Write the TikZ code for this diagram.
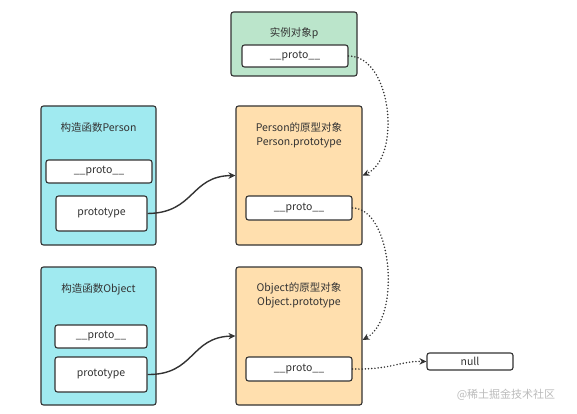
\documentclass[tikz,border=0pt]{standalone}
\usepackage{fontspec}
\setmainfont{Noto Sans CJK SC}
\usetikzlibrary{arrows.meta}
\definecolor{edge}{HTML}{333333}
\definecolor{greenfill}{HTML}{BBE5CB}
\definecolor{cyanfill}{HTML}{A0EAF0}
\definecolor{orangefill}{HTML}{FFDFAE}
\definecolor{wm}{HTML}{BBBBBB}
\tikzset{
  box/.style={draw=edge, line width=1.1pt, rounded corners=2.5pt, inner sep=0pt},
  field/.style={box, fill=white, font=\fontsize{10.5}{12}\selectfont, text=edge},
  title/.style={font=\fontsize{10.5}{14}\selectfont, align=center, text=edge},
  solidlink/.style={draw=edge, line width=1.4pt, -{Stealth[length=7pt,width=6.5pt]}},
  dotlink/.style={draw=edge, line width=1.7pt, line cap=round, dash pattern=on 0pt off 3.2pt, -{Stealth[length=7pt,width=6.5pt]}}
}
\begin{document}
\begin{tikzpicture}[x=1pt,y=-1pt]
\useasboundingbox (0,0) rectangle (577,414);
% instance
\node[box, fill=greenfill, minimum width=126pt, minimum height=64pt] (inst) at (294,44) {};
\node[title] (instt) at (294,33) {实例对象p};
\node[field, minimum width=106pt, minimum height=22pt] (instp) at (295,56) {\_\_proto\_\_};
% Person constructor
\node[box, fill=cyanfill, minimum width=115pt, minimum height=139pt] (pc) at (98.5,175.5) {};
\node[title] (pct) at (98.5,128) {构造函数Person};
\node[field, minimum width=106pt, minimum height=23pt] (pcproto) at (99,171.5) {\_\_proto\_\_};
\node[field, minimum width=91pt, minimum height=35pt] (pcprot) at (101.5,213.5) {prototype};
% Person.prototype
\node[box, fill=orangefill, minimum width=126pt, minimum height=139pt] (pp) at (299,175.5) {};
\node[title] (ppt) at (299,135) {Person的原型对象\\Person.prototype};
\node[field, minimum width=106pt, minimum height=24pt] (ppproto) at (299,208) {\_\_proto\_\_};
% Object constructor
\node[box, fill=cyanfill, minimum width=115pt, minimum height=138pt] (oc) at (98.5,336) {};
\node[title] (oct) at (98.5,289) {构造函数Object};
\node[field, minimum width=92pt, minimum height=23pt] (ocproto) at (101,336.5) {\_\_proto\_\_};
\node[field, minimum width=92pt, minimum height=35pt] (ocprot) at (101,374.5) {prototype};
% Object.prototype
\node[box, fill=orangefill, minimum width=126pt, minimum height=138pt] (op) at (299,336) {};
\node[title] (opt) at (299,295) {Object的原型对象\\Object.prototype};
\node[field, minimum width=106pt, minimum height=24pt] (opproto) at (299,369) {\_\_proto\_\_};
% null
\node[field, minimum width=86pt, minimum height=17pt] (null) at (470,361.5) {null};
% watermark
\node[font=\fontsize{11}{12}\selectfont, text=wm] (wmark) at (506,395) {@稀土掘金技术社区};
% links
\draw[solidlink] (pcprot.east) .. controls (195,213) and (190,176) .. (pp.west);
\draw[solidlink] (ocprot.east) .. controls (195,375) and (190,337) .. (op.west);
\draw[dotlink] (instp.east) .. controls (392,56) and (402,158) .. (pp.east);
\draw[dotlink] (ppproto.east) .. controls (392,208) and (402,318) .. ([yshift=-4pt]op.east);
\draw[dotlink] (opproto.east) .. controls (390,370) and (400,361) .. (null.west);
\end{tikzpicture}
\end{document}
